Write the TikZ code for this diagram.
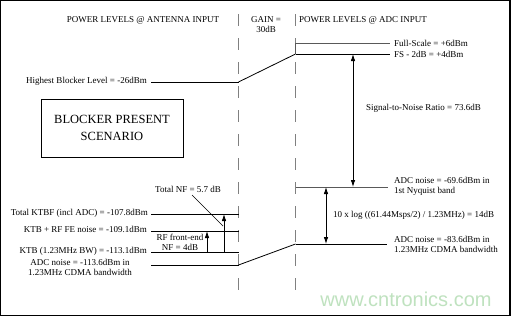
\documentclass[tikz,border=0pt]{standalone}
\usepackage{fontspec}
\setmainfont{Liberation Serif}
\newfontfamily\wmfont{Liberation Sans}
\usetikzlibrary{arrows.meta}
\begin{document}
\begin{tikzpicture}[x=1pt,y=-1pt,
  lbl/.style={font=\fontsize{9}{10}\selectfont, inner sep=0pt},
  lvl/.style={line width=1pt, black},
  glvl/.style={line width=1pt, black!65},
  sep/.style={line width=1.4pt, black!50, dash pattern=on 12pt off 12pt},
  dbl/.style={line width=0.8pt, {Latex[length=7pt,width=4.5pt]}-{Latex[length=7pt,width=4.5pt]}},
  up/.style={line width=0.8pt, -{Latex[length=7pt,width=4.5pt]}}]
\fill[white] (0,0) rectangle (511,317);
\useasboundingbox (0,0) rectangle (511,317);
\draw[line width=1.2pt] (0.6,0.6) rectangle (510,315.5);

% separators
\coordinate (ltop) at (238.5,14); \coordinate (lbot) at (238.5,292);
\coordinate (rtop) at (295.5,14); \coordinate (rbot) at (295.5,292);
\draw[sep] (ltop) -- (lbot);
\draw[sep] (rtop) -- (rbot);

% headings
\node[lbl] (hant) at (143,20) {POWER LEVELS @ ANTENNA INPUT};
\node[lbl, align=center] (hgain) at (266,25) {GAIN =\\30dB};
\node[lbl, anchor=west] (hadc) at (299,20) {POWER LEVELS @ ADC INPUT};

% left levels
\coordinate (b0) at (151,82);  \coordinate (b1) at (238.5,82);
\coordinate (k0) at (151,214); \coordinate (k1) at (238.5,214);
\coordinate (r0) at (151,231); \coordinate (r1) at (238.5,231);
\coordinate (t0) at (151,252); \coordinate (t1) at (238.5,252);
\coordinate (a0) at (151,265); \coordinate (a1) at (238.5,265);
\draw[lvl] (b0) -- (b1);
\draw[lvl] (k0) -- (k1);
\draw[lvl] (r0) -- (r1);
\draw[lvl] (t0) -- (t1);
\draw[lvl] (a0) -- (a1);

\node[lbl, anchor=east] (tb) at (147,81) {Highest Blocker Level = -26dBm};
\node[lbl, anchor=east] (tk) at (148,213) {Total KTBF (incl ADC) = -107.8dBm};
\node[lbl, anchor=east] (tr) at (147,229) {KTB + RF FE noise = -109.1dBm};
\node[lbl, anchor=east] (tt) at (147,251) {KTB (1.23MHz BW) = -113.1dBm};
\node[lbl, align=center] (ta) at (80,267.5) {ADC noise = -113.6dBm in\\1.23MHz CDMA bandwidth};

% right levels
\coordinate (f0) at (295.5,43);  \coordinate (f1) at (390,43);
\coordinate (g0) at (295.5,54);  \coordinate (g1) at (390,54);
\coordinate (n0) at (295.5,187); \coordinate (n1) at (388,187);
\coordinate (m0) at (295.5,244); \coordinate (m1) at (387,244);
\draw[glvl] (f0) -- (f1);
\draw[glvl] (f0) -- (g0);
\draw[lvl] (g0) -- (g1);
\draw[glvl] (n0) -- (n1);
\draw[lvl] (m0) -- (m1);

\node[lbl, anchor=west] (tf) at (394,43) {Full-Scale = +6dBm};
\node[lbl, anchor=west] (tg) at (394,54) {FS - 2dB = +4dBm};
\node[lbl, anchor=west, align=left] (tn) at (394,186.5) {ADC noise = -69.6dBm in\\1st Nyquist band};
\node[lbl, anchor=west, align=left] (tm) at (394,244) {ADC noise = -83.6dBm in\\1.23MHz CDMA bandwidth};

% gain slopes
\draw[line width=0.8pt] (b1) -- (g0);
\draw[line width=0.8pt] (a1) -- (m0);

% arrows right
\coordinate (s0) at (353,54); \coordinate (s1) at (353,187);
\draw[dbl] (s0) -- (s1);
\node[lbl, anchor=west] (tsnr) at (366,108) {Signal-to-Noise Ratio = 73.6dB};
\coordinate (p0) at (326,187); \coordinate (p1) at (326,244);
\draw[dbl] (p0) -- (p1);
\node[lbl, anchor=west] (tp) at (333,215) {10 x log ((61.44Msps/2) / 1.23MHz) = 14dB};

% arrows left
\coordinate (u0) at (207,252); \coordinate (u1) at (207,231);
\draw[up] (u0) -- (u1);
\coordinate (v0) at (224,252); \coordinate (v1) at (224,214);
\draw[up] (v0) -- (v1);
\node[lbl, align=center] (trf) at (180,242) {RF front-end\\NF = 4dB};
\node[lbl] (tnf) at (188,189) {Total NF = 5.7 dB};
\coordinate (nfend) at (223,226);
\draw[line width=0.7pt] (192,195) -- (nfend);

% scenario box
\node[draw, line width=1pt, minimum width=142pt, minimum height=58pt, inner sep=0pt] (box) at (112,128) {};
\node[font=\fontsize{12.5}{17}\selectfont, align=center] (tbox) at (box.center) {BLOCKER PRESENT\\SCENARIO};

% watermark
\node[font=\wmfont\fontsize{20}{20}\selectfont, text=green!55!black!25!white, inner sep=0pt] (wm) at (406,299) {www.cntronics.com};
\end{tikzpicture}
\end{document}
